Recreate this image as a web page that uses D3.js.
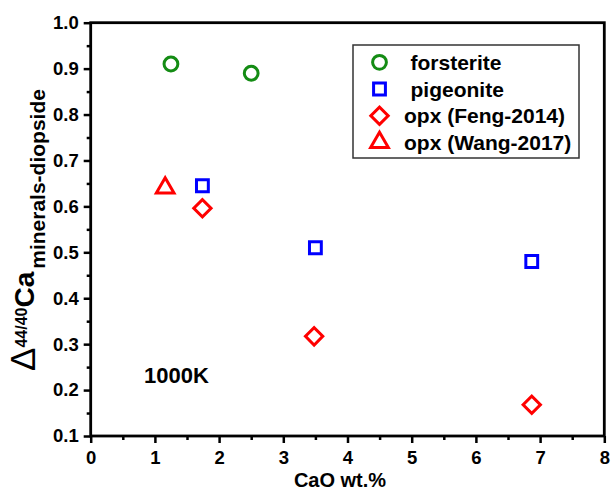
<!DOCTYPE html>
<html>
<head>
<meta charset="utf-8">
<script src="https://cdn.jsdelivr.net/npm/d3@7"></script>
<style>
  body { margin: 0; background: #fff; }
  text { font-family: "Liberation Sans", Arial, sans-serif; font-weight: bold; }
</style>
</head>
<body>
<svg width="611" height="494"></svg>
<script>
// data
var forsteriteX = [1.25, 2.5],
    forsteriteY = [0.91, 0.89];
var pigeoniteX = [1.74, 3.5, 6.87],
    pigeoniteY = [0.645, 0.51, 0.48];
var fengX = [1.74, 3.48, 6.87],
    fengY = [0.596, 0.317, 0.168];
var wangX = [1.16],
    wangY = [0.64];
var xTicks = [0, 1, 2, 3, 4, 5, 6, 7, 8];
var yTicks = [0.1, 0.2, 0.3, 0.4, 0.5, 0.6, 0.7, 0.8, 0.9, 1.0];
var legendNames = ["forsterite", "pigeonite", "opx (Feng-2014)", "opx (Wang-2017)"];

var svg = d3.select("svg");
var margin = {top: 22.7, right: 6.7, bottom: 58, left: 90.7},
    width = 611 - margin.left - margin.right,
    height = 494 - margin.top - margin.bottom;

var g = svg.append("g")
  .attr("transform", "translate(" + margin.left + "," + margin.top + ")");

var x = d3.scaleLinear().domain([0, 8]).range([0, width]);
var y = d3.scaleLinear().domain([0.1, 1.0]).range([height, 0]);

// minor ticks
g.append("g")
  .attr("transform", "translate(0," + height + ")")
  .call(d3.axisBottom(x).tickValues(d3.range(0.5, 8, 1)).tickSize(4).tickFormat(""))
  .call(a => a.select(".domain").remove())
  .selectAll("line").attr("stroke-width", 2.5);
g.append("g")
  .call(d3.axisLeft(y).tickValues(d3.range(0.15, 1.0, 0.1)).tickSize(4).tickFormat(""))
  .call(a => a.select(".domain").remove())
  .selectAll("line").attr("stroke-width", 2.5);

// major axes
var gX = g.append("g")
  .attr("transform", "translate(0," + height + ")")
  .call(d3.axisBottom(x).tickValues(xTicks).tickSize(7).tickPadding(8).tickFormat(d3.format("d")));
var gY = g.append("g")
  .call(d3.axisLeft(y).tickValues(yTicks).tickSize(7).tickPadding(5).tickFormat(d3.format(".1f")));
[gX, gY].forEach(a => {
  a.select(".domain").remove();
  a.selectAll("line").attr("stroke-width", 2.5);
  a.selectAll("text")
    .style("font-size", "18.5px")
    .style("font-weight", "bold")
    .style("font-family", "'Liberation Sans', Arial, sans-serif")
    .attr("fill", "#000");
});

// frame
g.append("rect")
  .attr("width", width).attr("height", height)
  .attr("fill", "none").attr("stroke", "#000").attr("stroke-width", 2.8);

// axis titles
svg.append("text")
  .attr("x", margin.left + width / 2 - 7.5).attr("y", 487)
  .attr("text-anchor", "middle").style("font-size", "20px")
  .text("CaO wt.%");

var yl = svg.append("text")
  .attr("transform", "translate(35,371) rotate(-90)")
  .attr("text-anchor", "start");
yl.append("tspan").style("font-size", "35px").style("font-weight", "normal").text("Δ");
yl.append("tspan").style("font-size", "16px").attr("dy", -8).text("44/40");
yl.append("tspan").style("font-size", "28px").attr("dy", 7).text("Ca");
yl.append("tspan").style("font-size", "21px").attr("dx", 3).attr("dy", 11).text("minerals-diopside");

// markers
var sym = {
  circle: d3.symbol().type(d3.symbolCircle).size(150),
  square: d3.symbol().type(d3.symbolSquare).size(140),
  diamond: d3.symbol().type(d3.symbolSquare).size(150),
  triangle: d3.symbol().type(d3.symbolTriangle).size(135)
};
var series = [
  {xs: forsteriteX, ys: forsteriteY, s: "circle", c: "#148c14"},
  {xs: pigeoniteX, ys: pigeoniteY, s: "square", c: "#0000ff"},
  {xs: fengX, ys: fengY, s: "diamond", c: "#ff0000"},
  {xs: wangX, ys: wangY, s: "triangle", c: "#ff0000"}
];

function marker(sel, s, c) {
  sel.attr("d", sym[s]())
    .attr("fill", "none").attr("stroke", c).attr("stroke-width", 3)
    .attr("stroke-linejoin", "miter");
}

series.forEach(sr => {
  g.selectAll(null).data(sr.xs).enter().append("path")
    .attr("transform", (d, i) => "translate(" + x(d) + "," + y(sr.ys[i]) + ")" + (sr.s == "diamond" ? " rotate(45)" : ""))
    .call(marker, sr.s, sr.c);
});

// annotation
svg.append("text")
  .attr("x", 144).attr("y", 383)
  .style("font-size", "22px")
  .text("1000K");

// legend
var leg = svg.append("g").attr("transform", "translate(353,45)");
leg.append("rect").attr("width", 226).attr("height", 113)
  .attr("fill", "#fff").attr("stroke", "#333").attr("stroke-width", 1.5);
series.forEach((sr, i) => {
  var yy = 17.3 + i * 26.7;
  leg.append("path")
    .attr("transform", "translate(26.5," + yy + ")" + (sr.s == "diamond" ? " rotate(45)" : ""))
    .call(marker, sr.s, sr.c);
  leg.append("text")
    .attr("x", i < 2 ? 57.5 : 51).attr("y", yy + 7.5)
    .style("font-size", "21px")
    .text(legendNames[i]);
});
</script>
</body>
</html>
